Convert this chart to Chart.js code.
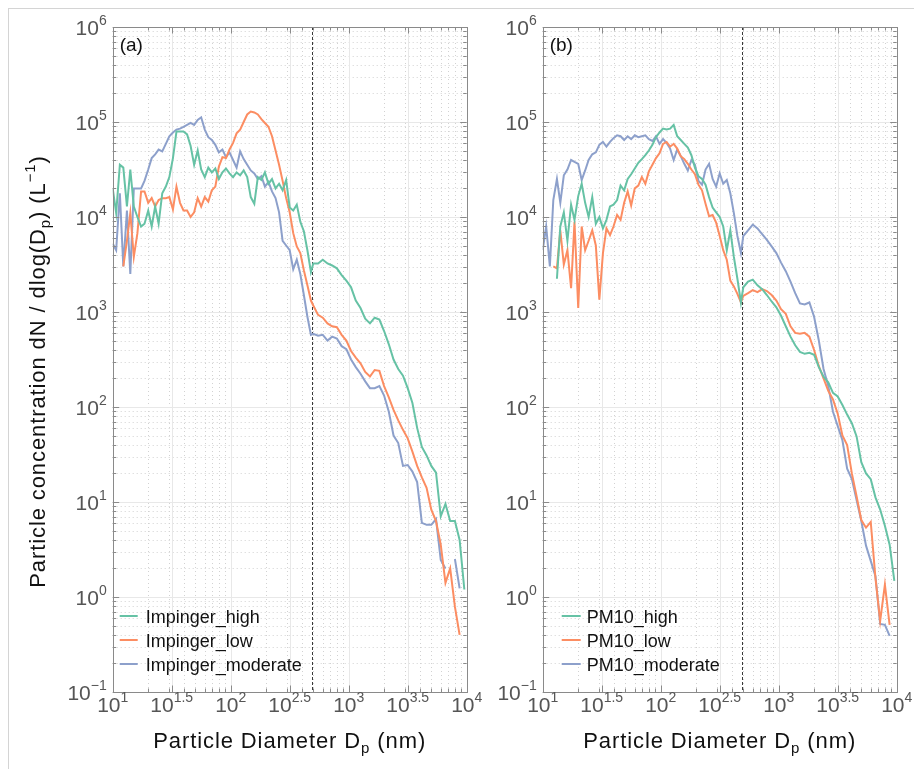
<!DOCTYPE html>
<html>
<head>
<meta charset="utf-8">
<script src="https://cdn.jsdelivr.net/npm/chart.js@4.4.1/dist/chart.umd.min.js"></script>
<style>
  html, body { margin: 0; padding: 0; background: #fff; }
  #fig { position: relative; width: 914px; height: 769px; overflow: hidden; }
  #fig canvas { position: absolute; left: 0; top: 0; }
  #frame { position: absolute; left: 8px; top: 8px; width: 940px; height: 780px; border: 1px solid #d4d4d4; box-sizing: border-box; }
</style>
</head>
<body>
<div id="fig">
  <div id="frame"></div>
  <canvas id="chartA" width="914" height="769"></canvas>
  <canvas id="chartB" width="914" height="769"></canvas>
</div>
<script>
// Size bins (nm): SMPS part up to ~480 nm, OPC part from ~500 nm
const smpsDiameter = [10.0, 10.7, 11.5, 12.3, 13.2, 14.1, 15.1, 16.2, 17.4, 18.6,
  20.0, 21.4, 22.9, 24.5, 26.3, 28.2, 30.2, 32.4, 34.7, 37.2,
  39.8, 42.7, 45.7, 49.0, 52.5, 56.2, 60.3, 64.6, 69.2, 74.1,
  79.4, 85.1, 91.2, 97.7, 104.7, 112.2, 120.2, 128.8, 138.0, 147.9,
  158.5, 169.8, 182.0, 195.0, 208.9, 223.9, 239.9, 257.0, 275.4, 295.1,
  316.2, 338.8, 363.1, 389.0, 416.9, 446.7, 478.6];
const opcDiameter = [501, 550, 603, 661, 724, 794, 871, 955, 1047, 1148, 1259, 1380, 1514, 1660,
  1820, 1995, 2188, 2399, 2630, 2884, 3162, 3467, 3802, 4169, 4571, 5012, 5495, 6026, 6607,
  7244, 7943, 8710, 9550];
const diameter = smpsDiameter.concat(opcDiameter);

// dN/dlog(Dp) in L^-1 (SMPS bins, then OPC bins)
const impingerHigh = [2.0e4, 1.1e4, 3.55e4, 3.31e4, 1.29e4, 3.16e4, 1.29e4, 1.0e4, 7.94e3, 8.51e3,
  1.17e4, 7.94e3, 1.29e4, 8.51e3, 1.78e4, 2.09e4, 2.63e4, 4.17e4, 7.94e4, 7.94e4,
  7.94e4, 7.41e4, 5.62e4, 3.55e4, 5.01e4, 3.16e4, 2.63e4, 3.31e4, 2.95e4, 3.24e4,
  2.51e4, 2.95e4, 3.24e4, 2.88e4, 2.63e4, 2.95e4, 2.75e4, 3.09e4, 2.63e4, 1.62e4,
  1.38e4, 2.63e4, 2.45e4, 2.95e4, 2.24e4, 2.51e4, 2.0e4, 2.24e4, 1.91e4, 2.45e4,
  1.26e4, 1.17e4, 1.35e4, 8.91e3, 7.08e3, 4.47e3, 2.63e3,
  3.24e3, 3.24e3, 3.55e3, 3.24e3, 3.09e3, 2.88e3, 2.45e3, 2.14e3, 1.82e3, 1.32e3, 1.1e3,
  851, 759, 871, 832, 631, 457, 316, 251, 214, 158, 110, 60.3, 38.0, 30.9, 24.0, 20.4,
  7.08, 9.55, 6.31, 6.31, 3.98, 1.2];
const impingerLow = [null, null, null, 3.02e3, 5.62e3, 1.1e4, 3.8e3, 6.76e3, 1.86e4, 1.86e4,
  1.41e4, 1.58e4, 1.29e4, 1.51e4, 1.58e4, 1.58e4, 1.62e4, 1.2e4, 2.09e4, 1.41e4,
  1.17e4, 1.17e4, 1.0e4, 1.12e4, 1.58e4, 1.29e4, 1.62e4, 1.45e4, 1.91e4, 2.09e4,
  3.39e4, 4.27e4, 4.17e4, 5.13e4, 6.03e4, 7.59e4, 8.32e4, 1.0e5, 1.2e5, 1.29e5,
  1.26e5, 1.2e5, 1.07e5, 9.77e4, 8.91e4, 7.08e4, 5.01e4, 3.55e4, 2.4e4, 1.58e4,
  1.12e4, 6.76e3, 4.9e3, 4.17e3, 2.75e3, 1.91e3, 1.32e3,
  1.17e3, 933, 871, 759, 708, 692, 575, 501, 389, 331, 288, 234, 209, 245, 240, 166,
  126, 93.3, 72.4, 57.5, 46.8, 33.9, 24.0, 18.2, 14.1, 8.32, 6.31, 3.55, 1.41, 2.0,
  0.79, 0.4, null];
const impingerModerate = [5.25e3, 4.47e3, 1.78e4, 3.02e3, 1.17e4, 2.51e3, 2.0e4, 2.0e4, 2.0e4, 2.4e4,
  3.16e4, 4.17e4, 4.57e4, 5.13e4, 4.9e4, 5.89e4, 7.08e4, 7.76e4, 8.32e4, 8.51e4,
  8.91e4, 9.33e4, 9.77e4, 9.33e4, 1.05e5, 1.12e5, 8.32e4, 6.92e4, 6.46e4, 5.75e4,
  4.79e4, 5.13e4, 4.27e4, 4.79e4, 3.98e4, 3.31e4, 4.9e4, 4.07e4, 3.55e4, 3.09e4,
  2.88e4, 2.51e4, 2.69e4, 2.09e4, 2.34e4, 1.86e4, 1.58e4, 1.12e4, 5.62e3, 5.01e3,
  4.47e3, 2.82e3, 3.55e3, 2.51e3, 1.51e3, 891, 575,
  589, 562, 575, 501, 550, 525, 437, 407, 316, 263, 224, 186, 158, 158, 166, 132,
  89.1, 50.1, 41.7, 24.0, 24.5, 20.9, 16.2, 6.03, 5.75, 5.75, 6.61, 2.45, 2.0, null,
  2.51, 1.23, null];

const pm10High = [null, null, null, null, 2.24e3, 7.94e3, 1.12e4, 5.62e3, 1.35e4, 9.33e3,
  1.66e4, 2.24e4, 1.41e4, 1.0e4, 1.62e4, 8.51e3, 1.0e4, 7.59e3, 9.33e3, 1.29e4,
  1.35e4, 1.51e4, 2.14e4, 1.91e4, 2.51e4, 2.82e4, 3.24e4, 3.72e4, 4.07e4, 4.47e4,
  5.01e4, 5.75e4, 6.92e4, 7.76e4, 8.51e4, 8.32e4, 8.51e4, 9.33e4, 7.08e4, 6.46e4,
  5.89e4, 5.37e4, 4.47e4, 3.31e4, 2.69e4, 2.51e4, 2.19e4, 1.62e4, 1.26e4, 1.12e4,
  1.0e4, 7.94e3, 4.47e3, 7.24e3, 3.8e3, 2.24e3, 1.26e3,
  1.82e3, 2.09e3, 2.19e3, 1.91e3, 1.74e3, 1.51e3, 1.29e3, 1.12e3, 912, 708, 550, 447,
  380, 363, 372, 355, 263, 209, 182, 141, 129, 105, 83.2, 67.6, 49.0, 26.3, 20.0, 17.4,
  11.2, 8.32, 5.62, 3.55, 1.48];
const pm10Low = [null, null, null, 3.02e3, 2.88e3, 7.24e3, 3.16e3, 4.47e3, 1.78e3, 8.91e3,
  1.1e3, 7.94e3, 4.47e3, 5.62e3, 7.24e3, 5.01e3, 1.35e3, 4.17e3, 7.59e3, 6.46e3,
  7.94e3, 1.05e4, 9.33e3, 1.41e4, 1.86e4, 1.32e4, 2.0e4, 2.14e4, 2.63e4, 2.24e4,
  3.02e4, 3.55e4, 4.17e4, 4.68e4, 5.89e4, 6.17e4, 5.5e4, 5.89e4, 5.25e4, 4.37e4,
  4.07e4, 3.63e4, 3.16e4, 2.82e4, 2.19e4, 1.91e4, 1.38e4, 1.02e4, 1.05e4, 8.71e3,
  6.31e3, 4.47e3, 3.55e3, 2.14e3, 1.86e3, 1.55e3, 1.26e3,
  1.48e3, 1.58e3, 1.7e3, 1.62e3, 1.74e3, 1.66e3, 1.51e3, 1.32e3, 1.07e3, 955, 708, 603,
  589, 603, 550, 398, 269, 200, 148, 120, 85.1, 50.1, 39.8, 20.0, 11.5, 6.46, 5.37, 6.17,
  1.58, 0.56, 1.35, 0.51, null];
const pm10Moderate = [4.47e3, 7.94e3, 3.02e3, 1.51e4, 2.51e4, 1.41e4, 2.75e4, 3.16e4, 3.98e4, 3.8e4,
  3.63e4, 2.45e4, 3.09e4, 3.98e4, 4.57e4, 4.79e4, 5.75e4, 6.17e4, 5.5e4, 6.17e4,
  6.76e4, 7.24e4, 7.08e4, 6.46e4, 7.08e4, 6.61e4, 7.24e4, 6.92e4, 7.08e4, 7.24e4,
  6.61e4, 6.31e4, 7.08e4, 5.89e4, 6.61e4, 6.03e4, 5.25e4, 3.98e4, 5.13e4, 4.37e4,
  3.63e4, 3.09e4, 3.98e4, 3.55e4, 2.4e4, 2.19e4, 3.16e4, 3.63e4, 2.51e4, 2.09e4,
  2.88e4, 2.24e4, 2.45e4, 1.78e4, 1.1e4, 6.31e3, 4.17e3,
  6.31e3, 7.24e3, 8.32e3, 7.59e3, 6.61e3, 5.75e3, 4.9e3, 4.17e3, 3.31e3, 2.69e3, 2.09e3,
  1.58e3, 1.23e3, 1.2e3, 1.26e3, 891, 501, 251, 166, 89.1, 63.1, 44.7, 22.4, 17.4, 10.5,
  6.31, 3.47, 2.4, 1.66, 0.52, 0.51, 0.39, null];

// tick labels are 10^exp
const xTickExps = ['1', '1.5', '2', '2.5', '3', '3.5', '4'];
const yTickExps = ['\u22121', '0', '1', '2', '3', '4', '5', '6'];
const cutoffDiameter = 490;

const FONT = '"Liberation Sans", Arial, Helvetica, sans-serif';
const COLORS = { high: '#66c2a5', low: '#fc8d62', moderate: '#8da0cb' };

function expValue(e){ return Math.pow(10, Number(e.replace('\u2212', '-'))); }

function minorValues(fromExp, toExp){
  const out = [];
  for(let p = fromExp; p < toExp; p++) for(let m = 2; m <= 9; m++) out.push(m * Math.pow(10, p));
  return out;
}

// draw text pieces (for super/subscripts) one after the other
function drawRuns(ctx, x, y, runs, align, color, spacing){
  ctx.letterSpacing = (spacing || 0) + 'px';
  let total = 0;
  runs.forEach(r => { ctx.font = r.size + 'px ' + FONT; r.w = ctx.measureText(r.t).width; total += r.w; });
  let cx = align === 'right' ? x - total : align === 'center' ? x - total / 2 : x;
  ctx.textAlign = 'left';
  ctx.textBaseline = 'alphabetic';
  ctx.fillStyle = color;
  runs.forEach(r => {
    ctx.font = r.size + 'px ' + FONT;
    ctx.fillText(r.t, cx, y + (r.dy || 0));
    cx += r.w;
  });
  ctx.letterSpacing = '0px';
}

const panelDecor = {
  id: 'panelDecor',
  beforeDatasetsDraw(chart, args, o){
    const { ctx, chartArea: a, scales: { x, y } } = chart;
    ctx.save();
    ctx.lineWidth = 1;
    // dotted minor grid
    ctx.strokeStyle = '#d2d2d2';
    ctx.setLineDash([1, 3]);
    ctx.beginPath();
    minorValues(1, 4).forEach(v => { const p = Math.round(x.getPixelForValue(v)) + 0.5; ctx.moveTo(p, a.top); ctx.lineTo(p, a.bottom); });
    minorValues(-1, 6).forEach(v => { const p = Math.round(y.getPixelForValue(v)) + 0.5; ctx.moveTo(a.left, p); ctx.lineTo(a.right, p); });
    ctx.stroke();
    // solid major grid
    ctx.setLineDash([]);
    ctx.strokeStyle = '#e8e8e8';
    ctx.beginPath();
    xTickExps.forEach(e => { const p = Math.round(x.getPixelForValue(expValue(e))) + 0.5; ctx.moveTo(p, a.top); ctx.lineTo(p, a.bottom); });
    yTickExps.forEach(e => { const p = Math.round(y.getPixelForValue(expValue(e))) + 0.5; ctx.moveTo(a.left, p); ctx.lineTo(a.right, p); });
    ctx.stroke();
    // cutoff between SMPS and OPC
    ctx.strokeStyle = '#3a3a3a';
    ctx.setLineDash([3, 2]);
    ctx.beginPath();
    const cx = Math.round(x.getPixelForValue(cutoffDiameter)) + 0.5;
    ctx.moveTo(cx, a.top); ctx.lineTo(cx, a.bottom);
    ctx.stroke();
    ctx.restore();
  },
  afterDatasetsDraw(chart, args, o){
    const { ctx, chartArea: a, scales: { x, y } } = chart;
    ctx.save();
    ctx.lineWidth = 1;
    ctx.strokeStyle = '#8a8a8a';
    ctx.strokeRect(Math.round(a.left) + 0.5, Math.round(a.top) + 0.5, Math.round(a.right - a.left), Math.round(a.bottom - a.top));

    // inward ticks on all four sides
    ctx.beginPath();
    const xTick = (v, len) => {
      const p = Math.round(x.getPixelForValue(v)) + 0.5;
      ctx.moveTo(p, a.bottom); ctx.lineTo(p, a.bottom - len);
      ctx.moveTo(p, a.top); ctx.lineTo(p, a.top + len);
    };
    const yTick = (v, len) => {
      const p = Math.round(y.getPixelForValue(v)) + 0.5;
      ctx.moveTo(a.left, p); ctx.lineTo(a.left + len, p);
      ctx.moveTo(a.right, p); ctx.lineTo(a.right - len, p);
    };
    minorValues(1, 4).forEach(v => xTick(v, 3.5));
    xTickExps.forEach(e => xTick(expValue(e), 6.5));
    minorValues(-1, 6).forEach(v => yTick(v, 3.5));
    yTickExps.forEach(e => yTick(expValue(e), 6.5));
    ctx.stroke();

    // tick labels
    const tickColor = '#555555';
    xTickExps.forEach(e => {
      const p = x.getPixelForValue(expValue(e));
      drawRuns(ctx, p, a.bottom + 20, [{ t: '10', size: 21 }, { t: e, size: 14, dy: -10 }], 'center', tickColor);
    });
    yTickExps.forEach(e => {
      const p = y.getPixelForValue(expValue(e));
      drawRuns(ctx, a.left - 6, p + 7.5, [{ t: '10', size: 21 }, { t: e, size: 14, dy: -10 }], 'right', tickColor);
    });

    // axis titles
    drawRuns(ctx, (a.left + a.right) / 2, a.bottom + 56, [
      { t: 'Particle Diameter D', size: 22 }, { t: 'p', size: 15, dy: 5 }, { t: ' (nm)', size: 22 }
    ], 'center', '#111', 0.9);
    if(o.yTitle){
      ctx.save();
      ctx.translate(45, (a.top + a.bottom) / 2 + 12);
      ctx.rotate(-Math.PI / 2);
      drawRuns(ctx, 0, 0, [
        { t: 'Particle concentration dN / dlog(D', size: 22 }, { t: 'p', size: 15, dy: 5 },
        { t: ') (L', size: 22 }, { t: '\u22121', size: 15, dy: -10 }, { t: ')', size: 22 }
      ], 'center', '#111', 0.9);
      ctx.restore();
    }

    // panel tag
    drawRuns(ctx, a.left + 7, a.top + 24, [{ t: o.tag, size: 19 }], 'left', '#111');

    // legend (bottom left, inside axes)
    const L = o.legend;
    chart.data.datasets.forEach((ds, i) => {
      const cy = a.bottom + L.rows[i];
      ctx.strokeStyle = ds.borderColor;
      ctx.lineWidth = 2;
      ctx.beginPath();
      ctx.moveTo(a.left + L.from, cy); ctx.lineTo(a.left + L.to, cy);
      ctx.stroke();
      drawRuns(ctx, a.left + L.text, cy + 6.5, [{ t: ds.label, size: 18 }], 'left', '#111');
    });
    ctx.restore();
  }
};

function series(values, label, color){
  return {
    label,
    data: diameter.map((d, i) => ({ x: d, y: values[i] })),
    borderColor: color,
    backgroundColor: color,
    borderWidth: 2,
    pointRadius: 0,
    tension: 0,
    fill: false,
    spanGaps: false
  };
}

function buildPanel(id, padLeft, padRight, datasets, decor){
  return new Chart(document.getElementById(id), {
    type: 'line',
    data: { datasets },
    options: {
      responsive: false,
      animation: false,
      events: [],
      layout: { padding: { left: padLeft, right: padRight, top: 27, bottom: 77 } },
      scales: {
        x: { type: 'logarithmic', min: 10, max: 10000, display: false },
        y: { type: 'logarithmic', min: 0.1, max: 1e6, display: false }
      },
      plugins: {
        legend: { display: false },
        tooltip: { enabled: false },
        panelDecor: decor
      }
    },
    plugins: [panelDecor]
  });
}

buildPanel('chartA', 112.7, 447.3, [
  series(impingerHigh, 'Impinger_high', COLORS.high),
  series(impingerLow, 'Impinger_low', COLORS.low),
  series(impingerModerate, 'Impinger_moderate', COLORS.moderate)
], { tag: '(a)', yTitle: true, legend: { from: 7, to: 25, text: 33, rows: [-76, -52, -28] } });

buildPanel('chartB', 542.7, 17.3, [
  series(pm10High, 'PM10_high', COLORS.high),
  series(pm10Low, 'PM10_low', COLORS.low),
  series(pm10Moderate, 'PM10_moderate', COLORS.moderate)
], { tag: '(b)', yTitle: false, legend: { from: 19, to: 38, text: 44, rows: [-76, -52, -28] } });
</script>
</body>
</html>
